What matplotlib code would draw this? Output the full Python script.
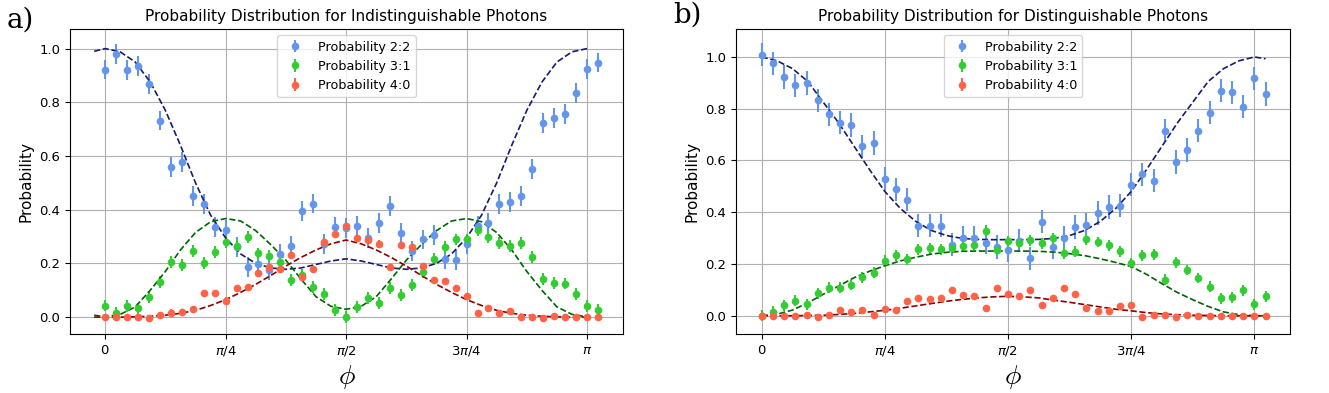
import numpy as np
import matplotlib.pyplot as plt

# phase values of the measured points (same grid in both panels)
phi = np.linspace(0, 45 * np.pi / 44, 46)

# a) indistinguishable photons, measured
p22_a = [0.922, 0.981, 0.920, 0.936, 0.867, 0.732, 0.559, 0.579, 0.452, 0.420,
         0.336, 0.323, 0.262, 0.186, 0.199, 0.174, 0.236, 0.264, 0.396, 0.423,
         0.272, 0.334, 0.332, 0.339, 0.295, 0.351, 0.415, 0.312, 0.246, 0.289,
         0.305, 0.215, 0.212, 0.271, 0.340, 0.351, 0.420, 0.430, 0.452, 0.551,
         0.724, 0.740, 0.757, 0.834, 0.924, 0.948]
p31_a = [0.043, 0.014, 0.042, 0.032, 0.076, 0.130, 0.204, 0.194, 0.246, 0.202,
         0.243, 0.279, 0.264, 0.297, 0.237, 0.227, 0.204, 0.138, 0.156, 0.112,
         0.087, 0.025, 0.001, 0.038, 0.070, 0.053, 0.109, 0.082, 0.119, 0.169,
         0.215, 0.262, 0.289, 0.289, 0.326, 0.297, 0.277, 0.266, 0.277, 0.225,
         0.142, 0.127, 0.125, 0.087, 0.041, 0.026]
p40_a = [0.000, -0.001, 0.001, 0.000, -0.005, 0.006, 0.017, 0.019, 0.031, 0.089,
         0.089, 0.061, 0.108, 0.111, 0.163, 0.186, 0.180, 0.231, 0.149, 0.180,
         0.281, 0.309, 0.338, 0.295, 0.287, 0.274, 0.187, 0.267, 0.261, 0.190,
         0.137, 0.133, 0.109, 0.078, 0.014, 0.032, 0.016, 0.022, -0.001, 0.001,
         -0.005, 0.004, 0.000, 0.000, 0.000, 0.001]
err_a = [0.037, 0.022, 0.012]

# b) distinguishable photons, measured
p22_b = [1.009, 0.975, 0.922, 0.891, 0.899, 0.832, 0.778, 0.746, 0.737, 0.655,
         0.668, 0.529, 0.488, 0.448, 0.348, 0.348, 0.348, 0.275, 0.300, 0.302,
         0.282, 0.266, 0.254, 0.290, 0.222, 0.363, 0.266, 0.302, 0.343, 0.352,
         0.397, 0.420, 0.425, 0.506, 0.546, 0.522, 0.715, 0.594, 0.640, 0.715,
         0.784, 0.870, 0.863, 0.808, 0.918, 0.857]
p31_b = [0.000, 0.015, 0.041, 0.058, 0.045, 0.087, 0.108, 0.108, 0.119, 0.148,
         0.166, 0.212, 0.233, 0.218, 0.257, 0.261, 0.257, 0.263, 0.268, 0.274,
         0.328, 0.255, 0.288, 0.281, 0.291, 0.280, 0.300, 0.242, 0.247, 0.295,
         0.285, 0.273, 0.249, 0.204, 0.234, 0.238, 0.140, 0.207, 0.177, 0.146,
         0.112, 0.068, 0.071, 0.098, 0.044, 0.076]
p40_b = [0.000, -0.001, -0.001, -0.001, 0.004, -0.005, 0.004, 0.021, 0.013, 0.024,
         0.001, 0.026, 0.023, 0.058, 0.067, 0.064, 0.069, 0.099, 0.081, 0.075,
         0.030, 0.109, 0.085, 0.078, 0.099, 0.040, 0.067, 0.108, 0.083, 0.030,
         0.017, 0.017, 0.039, 0.043, -0.005, 0.003, 0.004, -0.004, 0.004, -0.001,
         -0.001, 0.000, 0.000, 0.000, 0.000, 0.000]
err_b = [0.045, 0.021, 0.006]

# fitted curves (on a pi/32 grid)
phi_fit = np.linspace(0, np.pi, 33)
phi_fit_a = np.concatenate([[-np.pi / 44], phi_fit])
phi_fit_b = np.concatenate([phi_fit, [45 * np.pi / 44]])

fit22_a = [0.990, 1.000, 0.988, 0.950, 0.875, 0.770, 0.640, 0.500, 0.380, 0.295, 0.235,
           0.200, 0.183, 0.178, 0.183, 0.196, 0.209, 0.217,
           0.209, 0.196, 0.183, 0.178, 0.183, 0.200, 0.235, 0.295, 0.380, 0.500,
           0.640, 0.770, 0.875, 0.950, 0.988, 1.000]
fit31_a = [0.007, 0.001, 0.010, 0.038, 0.100, 0.170, 0.250, 0.315, 0.355, 0.367,
           0.358, 0.322, 0.270, 0.212, 0.142, 0.076, 0.040, 0.029,
           0.040, 0.076, 0.142, 0.212, 0.270, 0.322, 0.358, 0.367, 0.355, 0.315,
           0.250, 0.170, 0.100, 0.038, 0.010, 0.001]
fit40_a = [0.000, 0.000, 0.000, 0.001, 0.003, 0.007, 0.014, 0.025, 0.043, 0.065,
           0.092, 0.122, 0.155, 0.190, 0.222, 0.250, 0.273, 0.287,
           0.273, 0.250, 0.222, 0.190, 0.155, 0.122, 0.092, 0.065, 0.043, 0.025,
           0.014, 0.007, 0.003, 0.001, 0.000, 0.000]

fit22_b = [1.000, 0.985, 0.955, 0.905, 0.825, 0.745, 0.655, 0.565, 0.480, 0.415,
           0.365, 0.330, 0.310, 0.299, 0.295, 0.294, 0.294,
           0.294, 0.295, 0.299, 0.310, 0.330, 0.365, 0.415, 0.480, 0.565, 0.655,
           0.745, 0.825, 0.905, 0.955, 0.985, 1.000, 0.993]
fit31_b = [0.000, 0.006, 0.022, 0.050, 0.083, 0.115, 0.147, 0.172, 0.193, 0.212,
           0.226, 0.238, 0.245, 0.249, 0.250, 0.250, 0.250,
           0.250, 0.249, 0.246, 0.240, 0.232, 0.220, 0.206, 0.190, 0.160, 0.124,
           0.090, 0.062, 0.036, 0.015, 0.004, 0.000, 0.000]
fit40_b = [0.000, 0.000, 0.000, 0.001, 0.002, 0.005, 0.009, 0.015, 0.021, 0.029,
           0.038, 0.047, 0.056, 0.063, 0.069, 0.073, 0.075,
           0.073, 0.069, 0.060, 0.052, 0.043, 0.034, 0.025, 0.019, 0.012, 0.007,
           0.004, 0.002, 0.001, 0.000, 0.000, 0.000, 0.000]

labels = ['Probability 2:2', 'Probability 3:1', 'Probability 4:0']
tick_pos = [0, np.pi / 4, np.pi / 2, 3 * np.pi / 4, np.pi]
tick_lab = [r'$0$', r'$\pi/4$', r'$\pi/2$', r'$3\pi/4$', r'$\pi$']

point_colors = ['cornflowerblue', 'limegreen', 'tomato']
fit_colors = ['midnightblue', 'darkgreen', 'darkred']


def draw_panel(ax, data, errs, phi_f, fits, title, xlim, ylim):
    for y, e, c, lab in zip(data, errs, point_colors, labels):
        ax.errorbar(phi, y, yerr=e, fmt='o', color=c, ms=4.5, elinewidth=1.5, label=lab)
    for f, c in zip(fits, fit_colors):
        ax.plot(phi_f, f, '--', color=c, lw=1.2)
    ax.set_xticks(tick_pos)
    ax.set_xticklabels(tick_lab)
    ax.tick_params(labelsize=9.5)
    ax.set_xlim(*xlim)
    ax.set_ylim(*ylim)
    ax.set_title(title, fontsize=11)
    ax.set_ylabel('Probability', fontsize=11)
    ax.set_xlabel(r'$\phi$', fontsize=20, math_fontfamily='cm')
    ax.grid(True)
    ax.legend(loc='upper center', fontsize=9.2)


fig = plt.figure(figsize=(13.29, 3.93), dpi=100)
W, H = 1329, 393
ax1 = fig.add_axes([70 / W, 1 - 334 / H, 553 / W, 305 / H])
ax2 = fig.add_axes([736 / W, 1 - 334 / H, 554 / W, 305 / H])

draw_panel(ax1, [p22_a, p31_a, p40_a], err_a, phi_fit_a, [fit22_a, fit31_a, fit40_a],
           'Probability Distribution for Indistinguishable Photons',
           (-0.229, 3.376), (-0.063, 1.073))
draw_panel(ax2, [p22_b, p31_b, p40_b], err_b, phi_fit_b, [fit22_b, fit31_b, fit40_b],
           'Probability Distribution for Distinguishable Photons',
           (-0.164, 3.369), (-0.0705, 1.108))

fig.text(7 / W, 1 - 7 / H, 'a)', family='DejaVu Serif', fontsize=20, va='top', ha='left')
fig.text(673 / W, 1 - 2 / H, 'b)', family='DejaVu Serif', fontsize=20, va='top', ha='left')

plt.savefig('out.png', dpi=100)
